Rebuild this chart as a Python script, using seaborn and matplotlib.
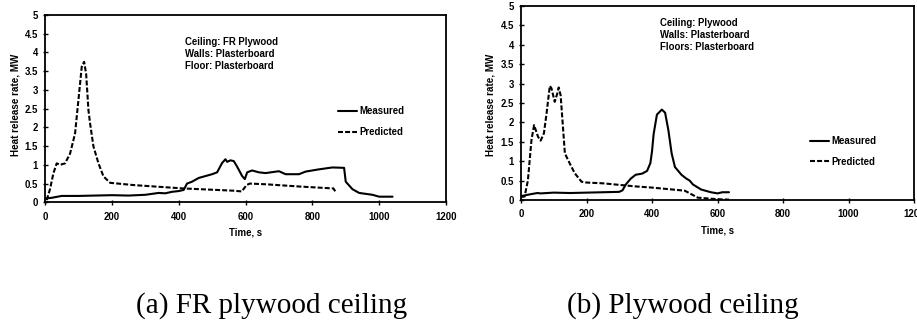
import numpy as np
import pandas as pd
import matplotlib
matplotlib.use("Agg")
import matplotlib.pyplot as plt
import seaborn as sns

sns.set_style("white")
plt.rcParams['font.family'] = ['Liberation Sans', 'DejaVu Sans']
plt.rcParams['text.color'] = 'black'
plt.rcParams['axes.labelcolor'] = 'black'
plt.rcParams['xtick.color'] = 'black'
plt.rcParams['ytick.color'] = 'black'

# ---- Panel (a): FR plywood ceiling ----
a_meas_t = [0, 20, 50, 100, 150, 200, 250, 300, 340, 360, 380, 400, 415, 425, 440, 460, 480,
            500, 515, 530, 540, 545, 555, 565, 575, 590, 598, 605, 620, 640, 660, 700, 720,
            760, 780, 820, 860, 895, 900, 910, 920, 940, 980, 1000, 1040]
a_meas_v = [0.10, 0.12, 0.17, 0.17, 0.18, 0.19, 0.18, 0.20, 0.25, 0.24, 0.28, 0.30, 0.33, 0.50,
            0.55, 0.65, 0.70, 0.75, 0.80, 1.05, 1.15, 1.08, 1.12, 1.10, 0.95, 0.70, 0.62, 0.80,
            0.85, 0.80, 0.78, 0.83, 0.75, 0.75, 0.82, 0.88, 0.93, 0.92, 0.55, 0.45, 0.35, 0.25,
            0.20, 0.15, 0.15]
a_pred_t = [5, 15, 25, 35, 45, 60, 75, 90, 100, 110, 117, 123, 130, 135, 145, 160, 175, 195,
            265, 364, 414, 464, 564, 589, 603, 613, 663, 763, 863, 871]
a_pred_v = [0.06, 0.35, 0.77, 1.04, 1.00, 1.04, 1.30, 1.84, 2.73, 3.62, 3.75, 3.44, 2.46, 2.10,
            1.49, 1.04, 0.69, 0.52, 0.46, 0.40, 0.37, 0.35, 0.31, 0.29, 0.46, 0.50, 0.48, 0.42,
            0.37, 0.26]

# ---- Panel (b): Plywood ceiling ----
b_meas_t = [0, 30, 50, 60, 100, 150, 200, 250, 300, 310, 320, 335, 350, 370, 385, 395, 400, 405,
            415, 430, 440, 450, 460, 470, 490, 505, 515, 525, 550, 580, 600, 615, 635]
b_meas_v = [0.10, 0.15, 0.18, 0.17, 0.19, 0.18, 0.19, 0.20, 0.21, 0.25, 0.40, 0.55, 0.65, 0.68,
            0.75, 0.95, 1.25, 1.70, 2.20, 2.33, 2.25, 1.80, 1.20, 0.85, 0.65, 0.55, 0.50, 0.40,
            0.27, 0.20, 0.17, 0.20, 0.20]
b_pred_t = [0, 11, 21, 32, 40, 52, 60, 70, 78, 88, 93, 103, 111, 115, 121, 134, 149, 164, 185,
            200, 250, 300, 350, 400, 450, 500, 520, 540, 600, 635]
b_pred_v = [0.08, 0.09, 0.50, 1.55, 1.93, 1.63, 1.53, 1.72, 2.23, 2.94, 2.88, 2.53, 2.75, 2.90,
            2.70, 1.20, 0.94, 0.69, 0.47, 0.45, 0.43, 0.39, 0.35, 0.32, 0.28, 0.24, 0.15, 0.06,
            0.02, 0.01]

a_notes = "Ceiling: FR Plywood\nWalls: Plasterboard\nFloor: Plasterboard"
b_notes = "Ceiling: Plywood\nWalls: Plasterboard\nFloors: Plasterboard"
captions = ["(a) FR plywood ceiling", "(b) Plywood ceiling"]
series_names = ["Measured", "Predicted"]
x_ticks = [0, 200, 400, 600, 800, 1000, 1200]
y_ticks = [0, 0.5, 1, 1.5, 2, 2.5, 3, 3.5, 4, 4.5, 5]
y_ticklabels = ["0", "0.5", "1", "1.5", "2", "2.5", "3", "3.5", "4", "4.5", "5"]


def make_df(mt, mv, pt, pv):
    return pd.concat([
        pd.DataFrame({"Time": mt, "HRR": mv, "Series": series_names[0]}),
        pd.DataFrame({"Time": pt, "HRR": pv, "Series": series_names[1]}),
    ], ignore_index=True)


W, H = 917, 323
fig = plt.figure(figsize=(W / 100, H / 100), dpi=100)

panels = [
    dict(df=make_df(a_meas_t, a_meas_v, a_pred_t, a_pred_v), notes=a_notes,
         box=(45, 202.3, 401, 187.3), leg=(0.731, 0.512), note=(0.349, 0.880),
         ylab=(-0.062, 0.52), xlab=(0.5, -0.137), cap_x=272),
    dict(df=make_df(b_meas_t, b_meas_v, b_pred_t, b_pred_v), notes=b_notes,
         box=(521, 200, 393, 194), leg=(0.735, 0.330), note=(0.354, 0.936),
         ylab=(-0.065, 0.49), xlab=(0.5, -0.134), cap_x=683),
]

fs = 6.9
for i, p in enumerate(panels):
    x0, ybot, w, h = p["box"]
    ax = fig.add_axes([x0 / W, (H - ybot) / H, w / W, h / H])
    sns.lineplot(data=p["df"], x="Time", y="HRR", style="Series",
                 dashes={"Measured": "", "Predicted": (2.4, 1.0)},
                 color="black", linewidth=1.5, estimator=None, sort=False, ax=ax)
    ax.set_xlim(0, 1200)
    ax.set_ylim(0, 5)
    ax.set_xticks(x_ticks)
    ax.set_xticklabels([str(t) for t in x_ticks])
    ax.set_yticks(y_ticks)
    ax.set_yticklabels(y_ticklabels)
    for sp in ax.spines.values():
        sp.set_color("black")
        sp.set_linewidth(1.3)
        sp.set_visible(True)
    ax.tick_params(axis="both", which="major", direction="inout", length=3.6, width=1.0,
                   colors="black", labelsize=fs)
    ax.tick_params(axis="x", pad=5.0, bottom=True)
    ax.tick_params(axis="y", pad=3.2, left=True)
    for lab in ax.get_xticklabels() + ax.get_yticklabels():
        lab.set_fontweight("bold")
    ax.set_xlabel("Time, s", fontsize=fs, fontweight="bold")
    ax.set_ylabel("Heat release rate, MW", fontsize=7.1, fontweight="bold")
    ax.yaxis.set_label_coords(*p["ylab"])
    ax.xaxis.set_label_coords(*p["xlab"])
    ax.text(p["note"][0], p["note"][1], p["notes"], transform=ax.transAxes, ha="left",
            va="top", fontsize=fs, fontweight="bold", linespacing=1.2)
    handles, labels = ax.get_legend_handles_labels()
    ax.legend(handles=handles, labels=labels, loc="upper left", bbox_to_anchor=p["leg"],
              frameon=False, prop={"weight": "bold", "size": fs},
              handlelength=2.0, handletextpad=0.25, labelspacing=1.1, borderpad=0,
              borderaxespad=0)
    fig.text(p["cap_x"] / W, (H - 313) / H, captions[i], ha="center", va="baseline",
             fontsize=21, family="Liberation Serif", color="black")

fig.savefig("out.png", dpi=100)
